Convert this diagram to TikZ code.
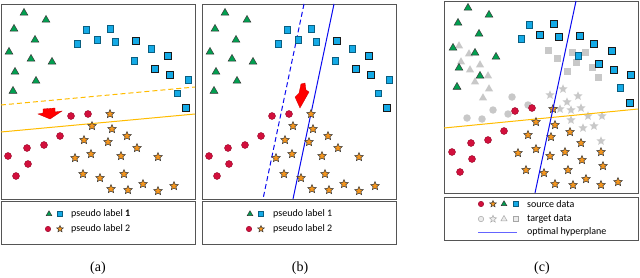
\documentclass[tikz,border=0pt]{standalone}
\usepackage{fontspec}
\setmainfont{Liberation Serif}
\newfontfamily\legfont{Carlito}
\usetikzlibrary{shapes.geometric}
\definecolor{tgreen}{RGB}{0,160,80}
\definecolor{tblue}{RGB}{20,170,230}
\definecolor{tred}{RGB}{210,15,60}
\definecolor{torange}{RGB}{245,150,30}
\definecolor{tgray}{RGB}{200,200,200}
\definecolor{tgold}{RGB}{255,188,0}
\definecolor{hblue}{RGB}{10,10,240}
\definecolor{lblue}{RGB}{100,100,255}
\definecolor{framec}{RGB}{85,85,85}
\tikzset{
  tri/.style={regular polygon, regular polygon sides=3, fill=tgreen, draw=black!80, line width=0.5pt, inner sep=0pt, minimum size=9pt},
  sq/.style={rectangle, fill=tblue, draw=tblue!55!black, line width=0.5pt, minimum size=6.5pt, inner sep=0pt},
  sqd/.style={sq, draw=black!90, line width=0.9pt},
  dot/.style={circle, fill=tred, draw=tred!70!black, line width=0.4pt, minimum size=7pt, inner sep=0pt},
  st/.style={star, star points=5, star point ratio=2.2, fill=torange, draw=black!80, line width=0.5pt, minimum size=9pt, inner sep=0pt},
  gtri/.style={regular polygon, regular polygon sides=3, fill=tgray, inner sep=0pt, minimum size=9.5pt},
  gsq/.style={rectangle, fill=tgray, minimum size=7pt, inner sep=0pt},
  gdot/.style={circle, fill=tgray, minimum size=7.5pt, inner sep=0pt},
  gst/.style={star, star points=5, star point ratio=2.2, fill=tgray, minimum size=9.5pt, inner sep=0pt},
  glegend/.style={fill=gray!15, draw=gray!70, line width=0.5pt},
  panel/.style={draw=framec, line width=0.9pt},
  leg/.style={font=\legfont\fontsize{10}{12}\selectfont, anchor=west, inner sep=0pt},
  captext/.style={font=\fontsize{14}{16}\selectfont},
  arr/.style={fill=red, draw=red!80!black, line width=0.3pt},
  gold/.style={draw=tgold, line width=1pt},
  hyp/.style={draw=hblue, line width=1pt},
}
\newcommand\pseudopanel[1]{%
  \foreach \x/\y [count=\i] in {24/13,46/20,14/29,35/40,9/52,31/59,52/62,15/72,36/81,13/91}
    \node[tri] (#1t\i) at (\x,\y) {};
  \foreach \x/\y [count=\i] in {86/30,110/29,77/44,97/40,115/42,151/49,134/61,188/80,177/93}
    \node[sq] (#1s\i) at (\x,\y) {};
  \foreach \x/\y [count=\i] in {136/41,168/56,155/69,170/75,186/108}
    \node[sqd] (#1d\i) at (\x,\y) {};
  \foreach \x/\y [count=\i] in {71/116,88/114,60/136,44/145,27/148,8/156,28/164,16/176}
    \node[dot] (#1c\i) at (\x,\y) {};
  \foreach \x/\y [count=\i] in {110/114,92/126,112/129,127/136,84/140,108/142,137/148,91/154,121/156,158/157,75/158,83/174,124/174,100/178,143/184,174/186,111/189,128/190,158/191}
    \node[st] (#1r\i) at (\x,\y) {};
}
\begin{document}
\begin{tikzpicture}[x=1pt,y=-1pt]
\useasboundingbox (0,0) rectangle (640,278);
% ---------- panel (a)
\draw[panel] (1,4) rectangle (195,199);
\coordinate (ga1) at (1,105); \coordinate (ga2) at (195,87);
\coordinate (gb1) at (1,132); \coordinate (gb2) at (195,114);
\draw[gold, dashed, dash pattern=on 5pt off 3pt] (ga1) -- (ga2);
\draw[gold] (gb1) -- (gb2);
\pseudopanel{a}
\fill[arr] (43,109) -- (55,108) -- (55,112) -- (62,111) -- (50,119) -- (38,114) -- (43,113) -- cycle;
\draw[panel] (1,201) rectangle (195,244);
\node[tri, minimum size=6.5pt] (la1) at (49,214) {};
\node[sq, minimum size=5pt] (la2) at (60,214) {};
\node[leg] (lta) at (71,214) {pseudo label \textbf{1}};
\node[dot, minimum size=5.5pt] (la3) at (48,229) {};
\node[st, minimum size=7pt] (la4) at (60,229) {};
\node[leg] (ltb) at (71,229) {pseudo label 2};
\node[captext] (capa) at (98,268) {(a)};
% ---------- panel (b)
\draw[panel] (202,4) rectangle (396,199);
\coordinate (ha1) at (304,4); \coordinate (ha2) at (263,199);
\coordinate (hb1) at (334,4); \coordinate (hb2) at (293,199);
\draw[hyp, dashed, dash pattern=on 5pt off 3pt] (ha1) -- (ha2);
\draw[hyp] (hb1) -- (hb2);
\begin{scope}[xshift=201pt]
\pseudopanel{b}
\end{scope}
\fill[arr] (301,84) -- (305,83) -- (306,90) -- (309,92) -- (300,108) -- (295,97) -- (299,93) -- cycle;
\draw[panel] (202,201) rectangle (396,244);
\node[tri, minimum size=6.5pt] (lb1) at (250,214) {};
\node[sq, minimum size=5pt] (lb2) at (261,214) {};
\node[leg] (ltc) at (273,214) {pseudo label 1};
\node[dot, minimum size=5.5pt] (lb3) at (249,229) {};
\node[st, minimum size=7pt] (lb4) at (261,229) {};
\node[leg] (ltd) at (273,229) {pseudo label 2};
\node[captext] (capb) at (300,268) {(b)};
% ---------- panel (c)
\draw[panel] (444,1) rectangle (638,193);
\foreach \x/\y [count=\i] in {459/46,469/54,461/62,470/70,480/65,488/76,475/82,489/89,483/98}
  \node[gtri] (cgt\i) at (\x,\y) {};
\foreach \x/\y [count=\i] in {548/51,557/59,572/53,585/53,576/63,567/72,592/68,598/78}
  \node[gsq] (cgs\i) at (\x,\y) {};
\foreach \x/\y [count=\i] in {512/97,528/105,493/110,508/114,467/118,482/119}
  \node[gdot] (cgc\i) at (\x,\y) {};
\foreach \x/\y [count=\i] in {550/95,563/89,578/96,567/102,560/109,571/110,581/108,571/120,588/116,602/116,583/128,594/126,601/141}
  \node[gst] (cgr\i) at (\x,\y) {};
\coordinate (oc1) at (444,128); \coordinate (oc2) at (638,109);
\coordinate (hc1) at (576,1); \coordinate (hc2) at (535,193);
\draw[gold] (oc1) -- (oc2);
\foreach \x/\y [count=\i] in {468/8,489/15,458/23,479/34,453/48,475/53,496/57,459/68,480/76,457/87}
  \node[tri] (ct\i) at (\x,\y) {};
\foreach \x/\y [count=\i] in {529/25,521/39,578/56,620/88}
  \node[sq] (cs\i) at (\x,\y) {};
\foreach \x/\y [count=\i] in {554/24,540/35,559/37,580/36,594/44,612/51,599/64,614/70,631/75,630/103}
  \node[sqd] (cd\i) at (\x,\y) {};
\foreach \x/\y [count=\i] in {515/111,532/108,504/131,488/140,471/143,452/152,472/159,460/172}
  \node[dot] (cc\i) at (\x,\y) {};
\foreach \x/\y [count=\i] in {553/109,536/122,555/125,570/132,528/135,551/137,581/143,536/149,565/152,601/152,518/153,550/156,582/160,603/166,526/170,568/170,544/173,586/179,618/182,555/184,573/185,601/185}
  \node[st] (cr\i) at (\x,\y) {};
\draw[hyp] (hc1) -- (hc2);
\draw[panel] (444,197) rectangle (638,240);
\node[dot, minimum size=5.5pt] (lc1) at (481,204) {};
\node[st, minimum size=7pt] (lc2) at (493,204) {};
\node[tri, minimum size=6.5pt] (lc3) at (504,204) {};
\node[sq, minimum size=5pt] (lc4) at (516,204) {};
\node[leg] (lte) at (527,204) {source data};
\node[gdot, glegend, minimum size=5.5pt] (lc5) at (481,219) {};
\node[gst, glegend, minimum size=7.5pt] (lc6) at (493,219) {};
\node[gtri, glegend, minimum size=7pt] (lc7) at (504,219) {};
\node[gsq, glegend, minimum size=5pt] (lc8) at (516,219) {};
\node[leg] (ltf) at (527,219) {target data};
\coordinate (lh1) at (478,232); \coordinate (lh2) at (517,232);
\draw[draw=lblue, line width=1pt] (lh1) -- (lh2);
\node[leg] (ltg) at (527,232) {optimal hyperplane};
\node[captext] (capc) at (542,268) {(c)};
\end{tikzpicture}
\end{document}
